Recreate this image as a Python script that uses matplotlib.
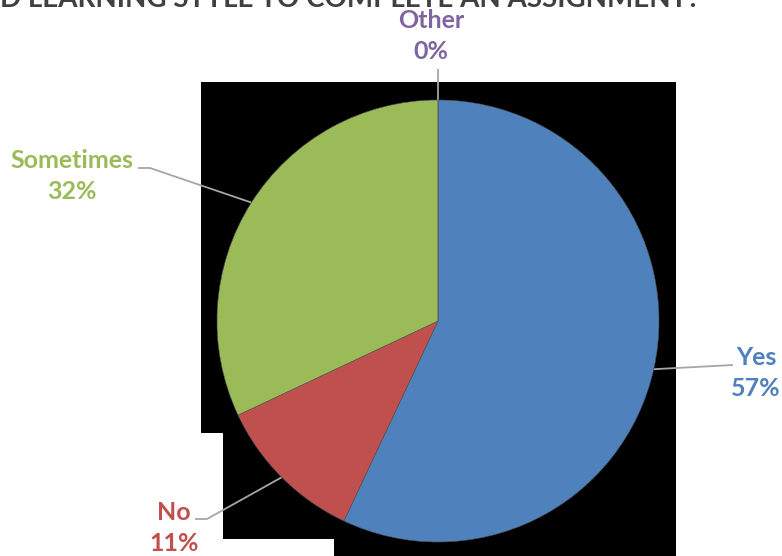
import numpy as np
import matplotlib.pyplot as plt
from matplotlib.patches import Polygon

# --- Survey answers ---
categories = ["Yes", "No", "Sometimes", "Other"]
shares = [57, 11, 32, 0]
colors = ["#4F81BD", "#C0504D", "#9BBB59", "#8064A2"]
title = "D LEARNING STYLE TO COMPLETE AN ASSIGNMENT?"

W, H = 782, 556
fig = plt.figure(figsize=(W / 100, H / 100), dpi=100)
fig.patch.set_facecolor("white")

# background layer in pixel units (y down)
bg = fig.add_axes([0, 0, 1, 1])
bg.set_xlim(0, W)
bg.set_ylim(H, 0)
bg.axis("off")

# black plot-area block behind the pie
block = [(201, 82), (676, 82), (676, 556), (334, 556), (334, 539),
         (223, 539), (223, 433), (201, 433)]
bg.add_patch(Polygon(block, closed=True, facecolor="black", edgecolor="none", zorder=0))

bg.text(0, 7, title, fontsize=20, fontweight="bold", color="#404040",
        family="Lato", ha="left", va="baseline")

# --- Pie ---
cx, cy, r = 438, 321, 221
ax = fig.add_axes([(cx - r) / W, (H - cy - r) / H, 2 * r / W, 2 * r / H])
ax.pie(shares, colors=colors, startangle=90, counterclock=False,
       wedgeprops=dict(linewidth=0.4, edgecolor="#555555"))
ax.set_xlim(-1, 1)
ax.set_ylim(-1, 1)
ax.axis("off")

# --- Labels with leader lines ---
total = float(sum(shares))
label_pos = {
    "Yes": (756, 373),
    "No": (174, 528),
    "Sometimes": (72, 176),
    "Other": (431, 36),
}
elbows = {
    "Yes": [(733, 365)],
    "No": [(207, 519), (195, 519)],
    "Sometimes": [(150, 168), (138, 168)],
    "Other": [(438, 69)],
}
cum = 0.0
for cat, val, col in zip(categories, shares, colors):
    mid = 90 - (cum + val / 2) / total * 360
    cum += val
    ex = cx + r * np.cos(np.radians(mid))
    ey = cy - r * np.sin(np.radians(mid))
    pts = [(ex, ey)] + elbows[cat]
    bg.plot([p[0] for p in pts], [p[1] for p in pts], color="#A6A6A6",
            lw=1.3, zorder=3, solid_capstyle="butt")
    lx, ly = label_pos[cat]
    bg.text(lx, ly, f"{cat}\n{val / total * 100:.0f}%", color=col,
            fontsize=18, fontweight="bold", family="Lato",
            ha="center", va="center", linespacing=1.45, zorder=4)

fig.savefig("out.png", dpi=100)
